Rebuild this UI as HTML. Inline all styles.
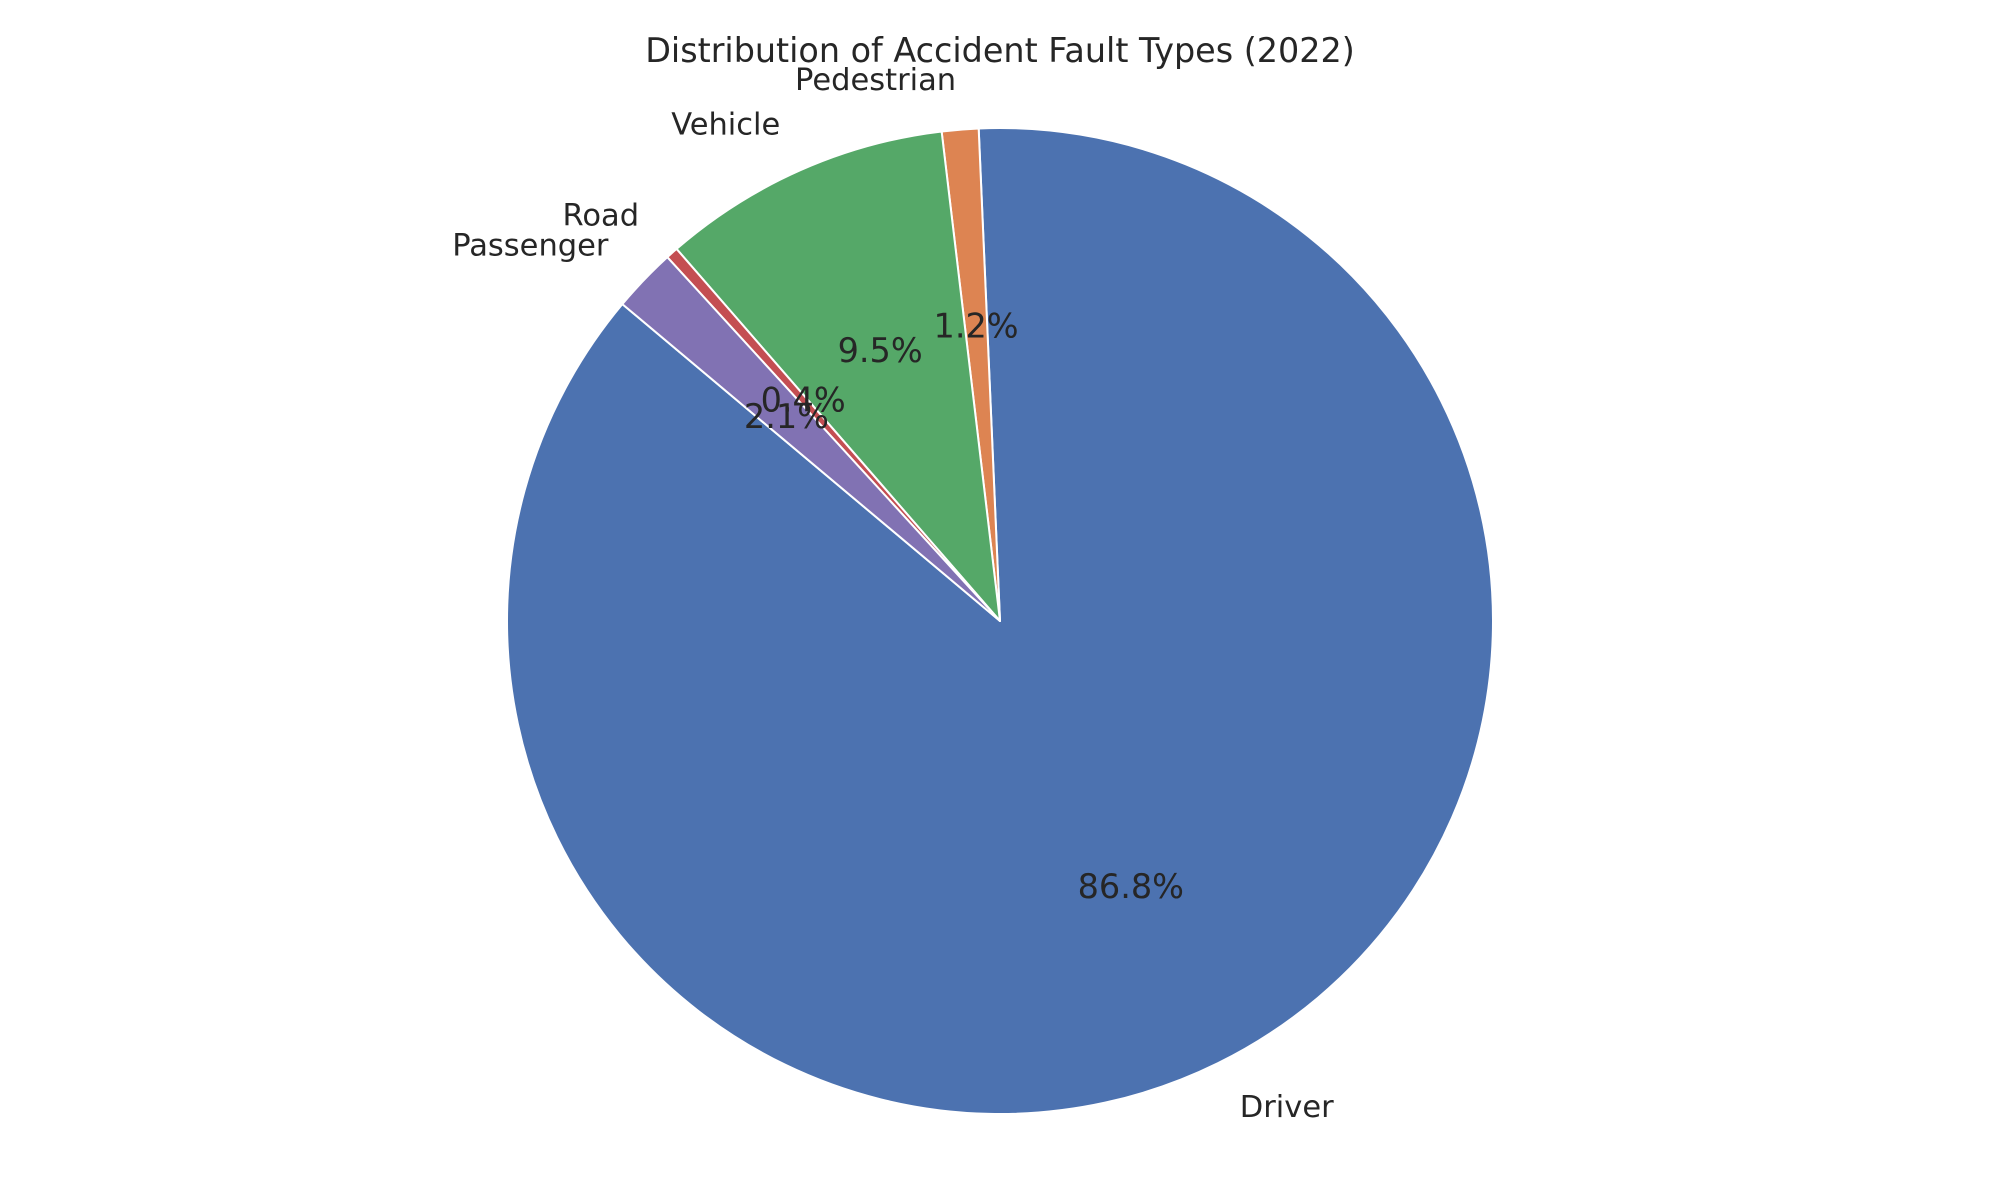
<!DOCTYPE html>
<html><head><meta charset="utf-8">
<style>
html,body{margin:0;padding:0;background:#fff;}
svg{display:block;font-family:"DejaVu Sans","Liberation Sans",sans-serif;}
</style></head>
<body>
<svg id="chart" width="2000" height="1200" viewBox="0 0 2000 1200">
<text x="1000" y="62" text-anchor="middle" font-size="33.4" fill="#262626">Distribution of Accident Fault Types (2022)</text>
<g id="slices"></g>
<g id="labels"></g>
</svg>
<script>
const categories = ["Driver", "Pedestrian", "Vehicle", "Road", "Passenger"];
const values = [86.8, 1.2, 9.5, 0.4, 2.1];
const pctLabels = ["86.8%", "1.2%", "9.5%", "0.4%", "2.1%"];
const colors = ["#4c72b0", "#dd8452", "#55a868", "#c44e52", "#8172b3"];

const cx = 1000, cy = 621, R = 493, startAngle = 140;
const NS = "http://www.w3.org/2000/svg";
const total = values.reduce((a, b) => a + b, 0);
function pt(deg, r) {
  const a = deg * Math.PI / 180;
  return [cx + r * Math.cos(a), cy - r * Math.sin(a)];
}
const gS = document.getElementById("slices");
const gL = document.getElementById("labels");
let theta = startAngle;
values.forEach((v, i) => {
  const sweep = v / total * 360;
  const t0 = theta, t1 = theta + sweep;
  const p0 = pt(t0, R), p1 = pt(t1, R);
  const large = sweep > 180 ? 1 : 0;
  const path = document.createElementNS(NS, "path");
  path.setAttribute("d", `M${cx},${cy} L${p0[0]},${p0[1]} A${R},${R} 0 ${large} 0 ${p1[0]},${p1[1]} Z`);
  path.setAttribute("fill", colors[i]);
  path.setAttribute("stroke", "#fff");
  path.setAttribute("stroke-width", "2");
  path.setAttribute("stroke-linejoin", "round");
  
  
  gS.appendChild(path);

  const mid = (t0 + t1) / 2;
  const lp = pt(mid, R * 1.1);
  const lab = document.createElementNS(NS, "text");
  lab.setAttribute("x", lp[0]);
  lab.setAttribute("y", lp[1]);
  lab.setAttribute("text-anchor", Math.cos(mid * Math.PI / 180) >= 0 ? "start" : "end");
  lab.setAttribute("dominant-baseline", "central");
  lab.setAttribute("font-size", "30.5");
  lab.setAttribute("fill", "#262626");
  lab.textContent = categories[i];
  
  
  gL.appendChild(lab);

  const pp = pt(mid, R * 0.6);
  const pct = document.createElementNS(NS, "text");
  pct.setAttribute("x", pp[0]);
  pct.setAttribute("y", pp[1]);
  pct.setAttribute("text-anchor", "middle");
  pct.setAttribute("dominant-baseline", "central");
  pct.setAttribute("font-size", "33.5");
  pct.setAttribute("fill", "#262626");
  pct.textContent = pctLabels[i];
  
  
  gL.appendChild(pct);

  theta = t1;
});
</script>
</body></html>
